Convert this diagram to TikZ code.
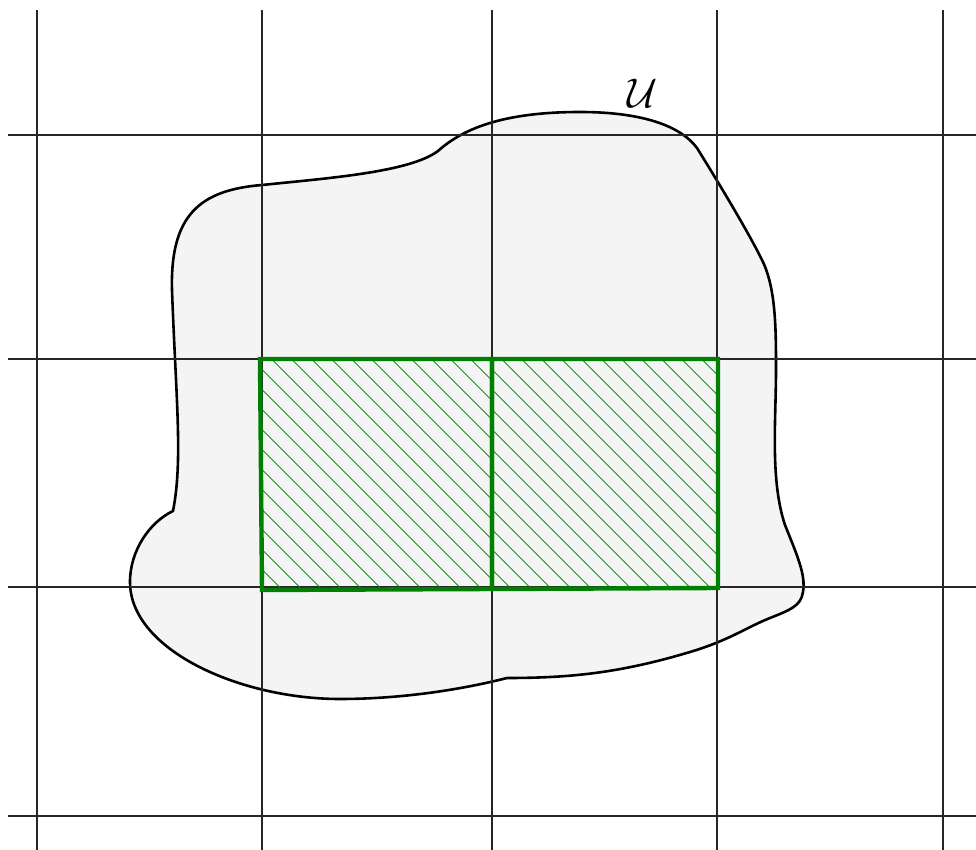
\documentclass[tikz,border=0pt]{standalone}
\usepackage{tikz}
\usetikzlibrary{patterns.meta}
\definecolor{regfill}{HTML}{F4F4F4}
\definecolor{cellgreen}{HTML}{008000}

\begin{document}
\begin{tikzpicture}[
    x=0.5pt, y=-0.5pt,
    gridline/.style={line width=0.65pt, black!85},
    region/.style={fill=regfill, draw=black, line width=1.3pt},
    cellbox/.style={draw=cellgreen, line width=2.2pt, line join=miter,
                    pattern={Lines[angle=-45, distance=7.4pt, line width=0.45pt]},
                    pattern color=cellgreen},
]
\useasboundingbox (0,0) rectangle (976,850);

% the open set U
\path[region] (173,511)
  .. controls (183,460) and (176,400) .. (172,290)
  .. controls (170,215) and (200,190) .. (262,185)
  .. controls (330,178) and (410,172) .. (438,151)
  .. controls (470,122) and (520,112) .. (580,112)
  .. controls (640,112) and (680,125) .. (697,148)
  .. controls (720,185) and (750,235) .. (763,262)
  .. controls (776,290) and (776,330) .. (776,370)
  .. controls (776,420) and (770,480) .. (785,525)
  .. controls (797,555) and (806,575) .. (803,592)
  .. controls (801,606) and (790,610) .. (770,618)
  .. controls (745,628) and (730,640) .. (690,652)
  .. controls (620,673) and (570,678) .. (507,678)
  .. controls (460,690) and (400,699) .. (340,699)
  .. controls (240,699) and (130,650) .. (130,582)
  .. controls (130,550) and (150,522) .. (173,511)
  -- cycle;
\node (U) at (643,93) {\fontsize{22}{26}\selectfont$\mathcal{U}$};

% grid
\foreach \gx in {37,262,492,717,943}
  \draw[gridline] (\gx,10) -- (\gx,850);
\foreach \gy in {135,359,587,816}
  \draw[gridline] (8,\gy) -- (976,\gy);

% two cells inside U
\draw[cellbox] (260,359) -- (492,359) -- (492,589) -- (262,590) -- cycle;
\draw[cellbox] (492,359) -- (718,359) -- (718,588) -- (492,589) -- cycle;

\end{tikzpicture}
\end{document}
